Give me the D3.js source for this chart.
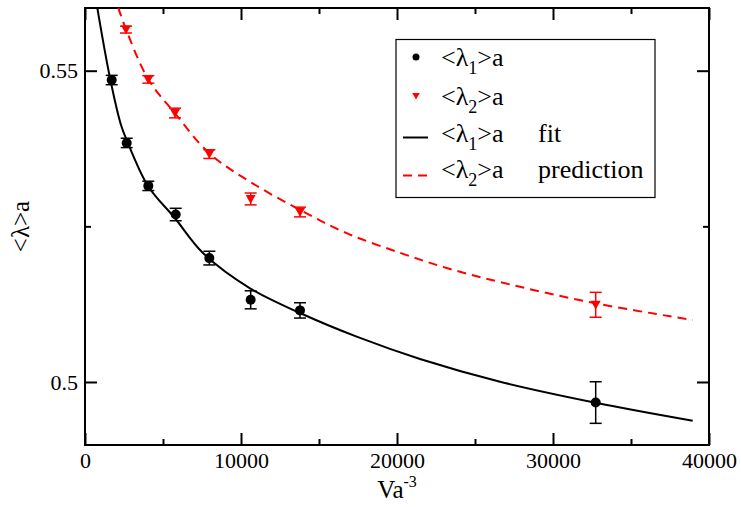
<!DOCTYPE html>
<html>
<head>
<meta charset="utf-8">
<script src="https://cdn.jsdelivr.net/npm/d3@7"></script>
<style>
  body { margin: 0; background: #fff; }
</style>
</head>
<body>
<script>
// ---------- data ----------
const volumes = [1711, 2673, 4058, 5814, 7970, 10620, 13782, 32737];
const lambda1 = [0.5485, 0.5384, 0.5315, 0.5269, 0.5199, 0.5132, 0.5115, 0.4967];
const lambda1Err = [0.00075, 0.00075, 0.00075, 0.001, 0.0011, 0.00145, 0.00123, 0.00334];

const volumes2 = [2628, 4058, 5769, 7970, 10620, 13782, 32737];
const lambda2 = [0.5566, 0.5486, 0.5432, 0.5366, 0.5294, 0.5273, 0.5124];
const lambda2Err = [0.00055, 0.0006, 0.00078, 0.0007, 0.00095, 0.00078, 0.002];

// fit curve for <λ1>a
const fitV = [788, 1603, 2308, 2673, 4038, 5769, 7564, 10577, 13782, 17500, 21474, 26603, 32737, 38955];
const fitL = [0.5601, 0.54883, 0.54128, 0.53887, 0.53148, 0.5263, 0.52072, 0.51505, 0.51108, 0.5072, 0.5037, 0.50005, 0.49667, 0.49378];

// prediction curve for <λ2>a
const predV = [2135, 2628, 4058, 5769, 7970, 10577, 13782, 16776, 20192, 23186, 26603, 32737, 38955];
const predL = [0.5601, 0.55665, 0.54862, 0.54316, 0.53673, 0.53217, 0.52763, 0.5239, 0.52075, 0.51831, 0.51605, 0.51264, 0.50996];

const xMajorTicks = [0, 10000, 20000, 30000, 40000];
const xMinorTicks = [5000, 15000, 25000, 35000];
const yMajorTicks = [0.5, 0.55];
const yTickLabels = ["0.5", "0.55"];
const yMinorTicks = [0.525];

// ---------- font ----------
const FONT = '"Liberation Serif", "Times New Roman", Times, serif';

// ---------- layout ----------
const W = 741, H = 507;
const L = 85, R = 709, T = 8, B = 445;

const svg = d3.select("body").append("svg").attr("width", W).attr("height", H)
  .attr("font-family", FONT);

const x = d3.scaleLinear().domain([0, 40000]).range([L, R]);
const y = d3.scaleLinear().domain([0.48988, 0.56007]).range([B, T]);

svg.append("defs").append("clipPath").attr("id", "clip")
  .append("rect").attr("x", L).attr("y", T).attr("width", R - L).attr("height", B - T);

// axes
function styleAxis(g) {
  g.attr("font-family", FONT);
  g.select(".domain").remove();
  g.selectAll(".tick line").attr("stroke", "#000").attr("stroke-width", 2);
  g.selectAll("text").attr("fill", "#000").attr("font-family", FONT).attr("font-size", 22);
}

svg.append("g").attr("transform", `translate(0,${B})`)
  .call(d3.axisBottom(x).tickValues(xMajorTicks).tickSize(-12).tickPadding(7).tickFormat(d3.format("d")))
  .call(styleAxis);
svg.append("g").attr("transform", `translate(0,${B})`)
  .call(d3.axisBottom(x).tickValues(xMinorTicks).tickSize(-6).tickFormat(""))
  .call(styleAxis);
svg.append("g").attr("transform", `translate(0,${T})`)
  .call(d3.axisTop(x).tickValues(xMajorTicks).tickSize(-12).tickFormat(""))
  .call(styleAxis);
svg.append("g").attr("transform", `translate(0,${T})`)
  .call(d3.axisTop(x).tickValues(xMinorTicks).tickSize(-6).tickFormat(""))
  .call(styleAxis);

svg.append("g").attr("transform", `translate(${L},0)`)
  .call(d3.axisLeft(y).tickValues(yMajorTicks).tickSize(-12).tickPadding(7)
    .tickFormat((d, i) => yTickLabels[i]))
  .call(styleAxis);
svg.append("g").attr("transform", `translate(${L},0)`)
  .call(d3.axisLeft(y).tickValues(yMinorTicks).tickSize(-6).tickFormat(""))
  .call(styleAxis);
svg.append("g").attr("transform", `translate(${R},0)`)
  .call(d3.axisRight(y).tickValues(yMajorTicks).tickSize(-12).tickFormat(""))
  .call(styleAxis);
svg.append("g").attr("transform", `translate(${R},0)`)
  .call(d3.axisRight(y).tickValues(yMinorTicks).tickSize(-6).tickFormat(""))
  .call(styleAxis);

// frame
svg.append("rect").attr("x", L).attr("y", T).attr("width", R - L).attr("height", B - T)
  .attr("fill", "none").attr("stroke", "#000").attr("stroke-width", 2);

// axis labels
const xl = svg.append("text").attr("x", (L + R) / 2).attr("y", 498)
  .attr("text-anchor", "middle").attr("font-family", FONT).attr("font-size", 25);
xl.append("tspan").text("Va");
xl.append("tspan").attr("dy", -11).attr("font-size", 16).text("-3");

svg.append("text")
  .attr("transform", `translate(29,${(T + B) / 2}) rotate(-90)`)
  .attr("text-anchor", "middle").attr("font-family", FONT).attr("font-size", 25).text("<λ>a");

// curves
const plot = svg.append("g").attr("clip-path", "url(#clip)");
const line = d3.line().x(d => x(d[0])).y(d => y(d[1])).curve(d3.curveCatmullRom.alpha(0.5));

plot.append("path").datum(fitV.map((v, i) => [v, fitL[i]]))
  .attr("d", line).attr("fill", "none").attr("stroke", "#000").attr("stroke-width", 2);
plot.append("path").datum(predV.map((v, i) => [v, predL[i]]))
  .attr("d", line).attr("fill", "none").attr("stroke", "#ff0000").attr("stroke-width", 2)
  .attr("stroke-dasharray", "9,6");

// error bars
function errorBars(xs, ys, es, color) {
  const g = plot.append("g").attr("stroke", color).attr("stroke-width", 1.5);
  xs.forEach((v, i) => {
    const cx = x(v), y1 = y(ys[i] + es[i]), y2 = y(ys[i] - es[i]);
    g.append("line").attr("x1", cx).attr("x2", cx).attr("y1", y1).attr("y2", y2);
    g.append("line").attr("x1", cx - 6).attr("x2", cx + 6).attr("y1", y1).attr("y2", y1);
    g.append("line").attr("x1", cx - 6).attr("x2", cx + 6).attr("y1", y2).attr("y2", y2);
  });
}
errorBars(volumes, lambda1, lambda1Err, "#000");
errorBars(volumes2, lambda2, lambda2Err, "#ff0000");

// markers
plot.append("g").selectAll("circle").data(volumes).join("circle")
  .attr("cx", d => x(d)).attr("cy", (d, i) => y(lambda1[i])).attr("r", 5).attr("fill", "#000");

const tri = (cx, cy, s) => `M${cx - s},${cy - s * 0.8}L${cx + s},${cy - s * 0.8}L${cx},${cy + s * 0.95}Z`;
plot.append("g").selectAll("path").data(volumes2).join("path")
  .attr("d", (d, i) => tri(x(d), y(lambda2[i]), 5)).attr("fill", "#ff0000");

// legend
const lg = svg.append("g").attr("font-family", FONT);
lg.append("rect").attr("x", 396).attr("y", 39.5).attr("width", 259).attr("height", 158)
  .attr("fill", "#fff").attr("stroke", "#000").attr("stroke-width", 1.2);

const rows = [
  { sub: "1", extra: "", y: 66, kind: "circle" },
  { sub: "2", extra: "", y: 105, kind: "tri" },
  { sub: "1", extra: "fit", y: 142, kind: "line" },
  { sub: "2", extra: "prediction", y: 178, kind: "dash" }
];
rows.forEach(r => {
  const my = r.y - 9;
  if (r.kind === "circle") lg.append("circle").attr("cx", 416).attr("cy", my).attr("r", 3.5).attr("fill", "#000");
  if (r.kind === "tri") lg.append("path").attr("d", tri(416, my, 3.8)).attr("fill", "#ff0000");
  if (r.kind === "line") lg.append("line").attr("x1", 403).attr("x2", 428).attr("y1", my + 4.5).attr("y2", my + 4.5)
    .attr("stroke", "#000").attr("stroke-width", 2);
  if (r.kind === "dash") lg.append("line").attr("x1", 403).attr("x2", 428).attr("y1", my + 6.5).attr("y2", my + 6.5)
    .attr("stroke", "#ff0000").attr("stroke-width", 2).attr("stroke-dasharray", "9,6");
  const t = lg.append("text").attr("x", 441).attr("y", r.y).attr("font-family", FONT).attr("font-size", 26);
  t.append("tspan").text("<λ");
  t.append("tspan").attr("dy", 8).attr("font-size", 18).text(r.sub);
  t.append("tspan").attr("dy", -8).text(">a");
  if (r.extra) lg.append("text").attr("x", 538).attr("y", r.y).attr("font-family", FONT)
    .attr("font-size", 26).text(r.extra);
});
</script>
</body>
</html>
